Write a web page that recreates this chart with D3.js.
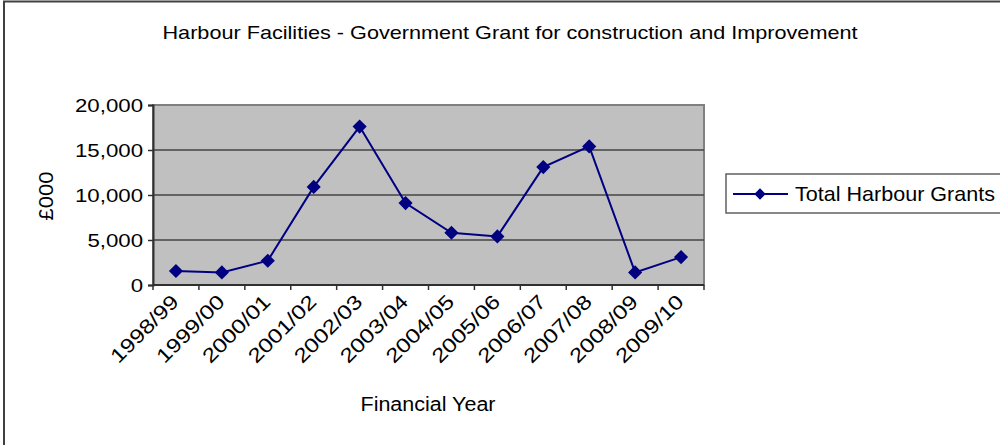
<!DOCTYPE html>
<html>
<head>
<meta charset="utf-8">
<script src="https://cdn.jsdelivr.net/npm/d3@7"></script>
<style>
body { margin: 0; background: #fff; }
text { font-family: "Liberation Sans", Arial, sans-serif; fill: #000; }
</style>
</head>
<body>
<svg width="1000" height="445"></svg>
<script>
var years = ["1998/99","1999/00","2000/01","2001/02","2002/03","2003/04","2004/05","2005/06","2006/07","2007/08","2008/09","2009/10"];
var grants = [1550, 1400, 2700, 10900, 17600, 9100, 5800, 5400, 13100, 15400, 1400, 3100];
var yTicks = [0, 5000, 10000, 15000, 20000];
var seriesName = "Total Harbour Grants";

var plotLeft = 153, plotRight = 704, plotTop = 105, plotBottom = 285;
var navy = "#000080";

var svg = d3.select("svg");

// widen text horizontally to match the source rendering
function stretch(sel, k){
	sel.each(function(){
		var t = this.getComputedTextLength();
		d3.select(this).attr("textLength", t*k).attr("lengthAdjust", "spacingAndGlyphs");
	});
}

// outer frame (cropped on right and bottom)
svg.append("rect")
	.attr("x", 4).attr("y", 1.5)
	.attr("width", 1010).attr("height", 460)
	.attr("fill", "none").attr("stroke", "#404040").attr("stroke-width", 2);

var x = d3.scaleBand().domain(years).range([plotLeft, plotRight]);
var y = d3.scaleLinear().domain([0, 20000]).range([plotBottom, plotTop]);

svg.append("rect")
	.attr("x", plotLeft).attr("y", plotTop)
	.attr("width", plotRight-plotLeft).attr("height", plotBottom-plotTop)
	.attr("fill", "#c0c0c0")
	.attr("stroke", "#808080").attr("stroke-width", 2);

svg.selectAll("line.grid")
	.data(yTicks.slice(1, 4))
	.enter().append("line").classed("grid", true)
	.attr("x1", plotLeft).attr("x2", plotRight)
	.attr("y1", d => y(d)).attr("y2", d => y(d))
	.attr("stroke", "#454545").attr("stroke-width", 1.5);

// y axis
var yAxis = d3.axisLeft(y).tickValues(yTicks).tickSize(5).tickPadding(5)
	.tickFormat(d3.format(","));
var gy = svg.append("g").attr("transform", "translate(" + plotLeft + ",0)").call(yAxis);
gy.select(".domain").attr("stroke", "#303030").attr("stroke-width", 2);
gy.selectAll(".tick line").attr("stroke", "#303030").attr("stroke-width", 1.5);
gy.selectAll(".tick text").attr("font-size", 19).attr("dy", "0.36em")
	.attr("font-family", "Liberation Sans, Arial, sans-serif").attr("fill", "#000")
	.call(stretch, 1.17);

// x axis: ticks at category boundaries
var bounds = years.map(d => x(d)).concat([plotRight]);
var gx = svg.append("g");
gx.append("line").attr("x1", plotLeft).attr("x2", plotRight)
	.attr("y1", plotBottom).attr("y2", plotBottom)
	.attr("stroke", "#303030").attr("stroke-width", 2);
gx.selectAll("line.tk").data(bounds).enter().append("line").classed("tk", true)
	.attr("x1", d => d).attr("x2", d => d)
	.attr("y1", plotBottom).attr("y2", plotBottom + 5)
	.attr("stroke", "#303030").attr("stroke-width", 1.5);
gx.selectAll("text").data(years).enter().append("text")
	.attr("text-anchor", "end")
	.attr("font-size", 20)
	.attr("transform", d => "translate(" + (x(d) + x.bandwidth()/2 + 4) + "," + (plotBottom + 18) + ") rotate(-45)")
	.text(d => d)
	.call(stretch, 1.2);

// line + markers
var line = d3.line()
	.x((d, i) => x(years[i]) + x.bandwidth()/2)
	.y(d => y(d));
svg.append("path").datum(grants)
	.attr("d", line)
	.attr("fill", "none").attr("stroke", navy).attr("stroke-width", 2);

var diamond = d3.symbol().type(d3.symbolSquare).size(100);
svg.selectAll("path.pt").data(grants).enter().append("path").classed("pt", true)
	.attr("d", diamond)
	.attr("transform", (d, i) => "translate(" + (x(years[i]) + x.bandwidth()/2) + "," + y(d) + ") rotate(45)")
	.attr("fill", navy);

// titles
svg.append("text")
	.attr("x", 510).attr("y", 39)
	.attr("text-anchor", "middle").attr("font-size", 19)
	.text("Harbour Facilities - Government Grant for construction and Improvement")
	.attr("textLength", 695).attr("lengthAdjust", "spacingAndGlyphs");

svg.append("text")
	.attr("x", 428).attr("y", 411)
	.attr("text-anchor", "middle").attr("font-size", 20)
	.text("Financial Year")
	.attr("textLength", 135).attr("lengthAdjust", "spacingAndGlyphs");

svg.append("text")
	.attr("transform", "translate(53,196) rotate(-90)")
	.attr("text-anchor", "middle").attr("font-size", 20)
	.text("£000")
	.call(stretch, 1.1);

// legend
var lg = svg.append("g");
lg.append("rect")
	.attr("x", 726).attr("y", 174)
	.attr("width", 300).attr("height", 39)
	.attr("fill", "#fff").attr("stroke", "#606060").attr("stroke-width", 1.5);
lg.append("line")
	.attr("x1", 733).attr("x2", 788).attr("y1", 194).attr("y2", 194)
	.attr("stroke", navy).attr("stroke-width", 2);
lg.append("path")
	.attr("d", d3.symbol().type(d3.symbolSquare).size(64))
	.attr("transform", "translate(760,194) rotate(45)")
	.attr("fill", navy);
lg.append("text")
	.attr("x", 795).attr("y", 201)
	.attr("font-size", 21)
	.text(seriesName)
	.attr("textLength", 200).attr("lengthAdjust", "spacingAndGlyphs");
</script>
</body>
</html>
